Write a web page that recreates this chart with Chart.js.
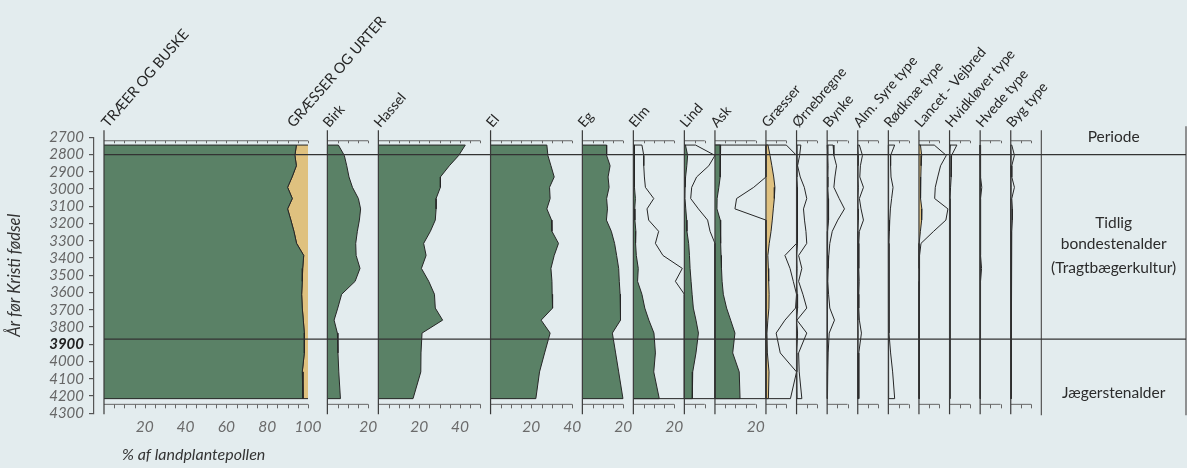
<!DOCTYPE html>
<html>
<head>
<meta charset="utf-8">
<script src="https://cdn.jsdelivr.net/npm/chart.js@4/dist/chart.umd.min.js"></script>
<style>
  html, body { margin: 0; padding: 0; background: #e3ecee; }
  #wrap { width: 1187px; height: 468px; }
</style>
</head>
<body>
<div id="wrap"><canvas id="pollen" width="1187" height="468"></canvas></div>
<script>
// prøvernes alder (år før Kristi fødsel)
const years = [2745, 2805, 2865, 2930, 2990, 3055, 3115, 3180, 3245, 3315, 3385, 3460, 3535, 3610, 3690, 3760, 3835, 3950, 4060, 4215];

// hovedgrupper, % af landplantepollen
const traeer        = [94.3, 93.6, 94.3, 92.2, 90.0, 92.3, 90.0, 91.6, 93.1, 94.4, 97.9, 97.4, 97.2, 96.9, 97.2, 97.7, 98.2, 98.2, 97.2, 97.5];
const graesserUrter = [5.7, 6.4, 5.7, 7.8, 10.0, 7.7, 10.0, 8.4, 6.9, 5.6, 2.1, 2.6, 2.8, 3.1, 2.8, 2.3, 1.8, 1.8, 2.8, 2.5];

// enkelte pollentyper
const birk       = [5.4, 8.3, 9.5, 10.6, 12.3, 15.2, 16.3, 15.7, 14.7, 13.9, 14.1, 16.0, 13.6, 7.0, 5.1, 3.3, 4.9, 5.2, 5.6, 6.4];
const hassel     = [42.6, 39.4, 34.8, 30.4, 30.4, 28.3, 28.3, 27.9, 25.5, 22.2, 23.4, 21.1, 24.7, 27.5, 27.9, 31.5, 21.4, 20.9, 20.8, 17.0];
const el         = [27.6, 28.1, 29.6, 31.2, 28.9, 29.2, 27.6, 29.9, 30.1, 33.3, 31.2, 29.6, 30.1, 30.2, 30.4, 24.8, 29.2, 26.5, 24.0, 22.2];
const eg         = [11.9, 11.9, 13.6, 12.6, 13.1, 11.9, 12.3, 11.8, 14.2, 15.8, 16.8, 17.8, 18.1, 18.5, 18.6, 18.8, 14.7, 16.3, 17.8, 19.9];
const elm        = [0.42, 0.51, 0.51, 0.54, 0.59, 1.0, 0.67, 0.75, 1.24, 1.08, 1.45, 2.4, 2.06, 4.2, 5.6, 7.6, 10.1, 10.8, 10.0, 12.7];
const lind       = [0.55, 1.6, 1.2, 0.6, 0.36, 0.31, 0.69, 1.14, 1.26, 2.1, 2.5, 2.8, 3.3, 3.8, 4.4, 5.7, 6.9, 5.7, 4.1, 3.9];
const ask        = [2.8, 2.6, 2.6, 2.5, 1.9, 1.06, 0.98, 2.6, 2.7, 2.9, 3.0, 3.2, 3.5, 4.1, 5.7, 7.7, 9.8, 8.7, 11.9, 12.3];
const graesser   = [1.0, 2.0, 2.9, 3.8, 4.4, 4.1, 3.6, 3.1, 2.5, 1.6, 0.93, 1.18, 1.34, 1.55, 1.45, 0.93, 0.5, 0.7, 1.5, 1.2];
const ornebregne = [0.21, 0.15, 0.05, 0.18, 0.38, 0.5, 0.34, 0.39, 0.46, 0.5, 0.1, 0.26, 0.1, 0.31, 0.5, 0.02, 0.5, 0.1, 0.13, 0.26];
const bynke      = [0.29, 0.33, 0.46, 0.38, 0.33, 0.59, 0.85, 0.52, 0.25, 0.13, 0.08, 0.05, 0.03, 0.07, 0.13, 0.36, 0.1, 0.05, 0.03, 0.03];
const syre       = [0.08, 0.23, 0.13, 0.1, 0.28, 0.08, 0.16, 0.28, 0.08, 0.05, 0.05, 0.05, 0.07, 0.05, 0.05, 0.08, 0.18, 0.05, 0.05, 0.05];
const rodknae    = [0.31, 0.11, 0.11, 0.13, 0.23, 0.16, 0.1, 0.07, 0.05, 0.03, 0.03, 0.03, 0.03, 0.03, 0.03, 0.03, 0.03, 0.11, 0.21, 0.31];
const lancet     = [0.75, 1.34, 1.06, 0.92, 0.8, 0.77, 1.42, 1.32, 0.72, 0.1, 0.03, 0.03, 0.02, 0.02, 0.02, 0.02, 0.02, 0.02, 0.02, 0.02];
const hvidklover = [0.36, 0.1, 0.08, 0.08, 0.05, 0.02, 0.02, 0.02, 0.02, 0.02, 0.02, 0.02, 0.02, 0.02, 0.02, 0.02, 0.02, 0.02, 0.02, 0.02];
const hvede      = [0.02, 0.02, 0.02, 0.02, 0.08, 0.02, 0.02, 0.02, 0.02, 0.02, 0.02, 0.07, 0.02, 0.02, 0.02, 0.02, 0.02, 0.02, 0.02, 0.02];
const byg        = [0.05, 0.18, 0.05, 0.05, 0.18, 0.05, 0.08, 0.08, 0.05, 0.02, 0.02, 0.02, 0.02, 0.02, 0.02, 0.02, 0.02, 0.02, 0.02, 0.02];

const taxonNames  = ['Birk', 'Hassel', 'El', 'Eg', 'Elm', 'Lind', 'Ask', 'Græsser', 'Ørnebregne', 'Bynke',
                     'Alm. Syre type', 'Rødknæ type', 'Lancet - Vejbred', 'Hvidkløver type', 'Hvede type', 'Byg type'];
const taxonValues = [birk, hassel, el, eg, elm, lind, ask, graesser, ornebregne, bynke, syre, rodknae, lancet, hvidklover, hvede, byg];
const scaleMax    = [20, 50, 40, 20, 20, 10, 20, 10, 10, 10, 10, 10, 10, 10, 10, 10];
const axisLabels  = [[20], [20, 40], [20, 40], [20], [20], [], [20], [], [], [], [], [], [], [], [], []];
const mainLabels  = [20, 40, 60, 80, 100];
const groupNames  = ['TRÆER OG BUSKE', 'GRÆSSER OG URTER'];
const zoneBounds  = [2800, 3870];
const periodNames = ['Periode', 'Tidlig', 'bondestenalder', '(Tragtbægerkultur)', 'Jægerstenalder'];

// ---- udseende ----
const FONT = "Lato, 'Open Sans', sans-serif";
const GREEN = '#5a8166', TAN = '#dfc17f', DARK = '#2e2e2e', INK = '#262626';
const GAP = 5, FIRST_GAP = 9.5;
// fyldfarve og 10x-overdrivelse pr. type
const taxonFill = [GREEN, GREEN, GREEN, GREEN, GREEN, GREEN, GREEN, TAN, DARK, DARK, DARK, DARK, TAN, DARK, DARK, DARK];
const taxonExag = [false, false, false, false, true, true, true, true, true, true, true, true, true, true, true, true];

// paneler langs x-aksen (enheder = procent)
const panels = [{ x0: 0, w: 100, labels: mainLabels }];
let cursor = 100 + FIRST_GAP;
taxonNames.forEach((name, i) => {
  panels.push({ x0: cursor, w: scaleMax[i], name, values: taxonValues[i], labels: axisLabels[i], fill: taxonFill[i], exag: taxonExag[i] });
  cursor += scaleMax[i] + GAP;
});
const periodX = cursor;

function profile(x0, vals, factor, clipW) {
  const pts = [{ x: x0, y: years[0] }];
  vals.forEach((v, i) => pts.push({ x: x0 + Math.min(v * factor, clipW), y: years[i] }));
  pts.push({ x: x0, y: years[years.length - 1] });
  return pts;
}
function ds(data, fillColor) {
  return {
    data, borderColor: INK, borderWidth: 1,
    backgroundColor: fillColor || 'transparent', fill: fillColor ? 'shape' : false,
    pointRadius: 0, pointHoverRadius: 0, tension: 0
  };
}

const datasets = [];
datasets.push(ds(profile(0, traeer, 1, 100), GREEN));
datasets.push(ds([{ x: 100, y: years[0] }, ...graesserUrter.map((v, i) => ({ x: 100 - v, y: years[i] })), { x: 100, y: years[years.length - 1] }], TAN));
panels.slice(1).forEach(p => {
  datasets.push(ds(profile(p.x0, p.values, 1, p.w + GAP), p.fill));
  if (p.exag) datasets.push(ds(profile(p.x0, p.values, 10, p.w + GAP), null));
});

const decor = {
  id: 'decor',
  afterDatasetsDraw(chart) {
    const { ctx, scales: { x, y } } = chart;
    const yTop = y.top - 7, yBot = y.bottom + 1;
    const yStripTop = y.getPixelForValue(2720), yStripBot = y.getPixelForValue(4248);
    const rightEdge = chart.width - 1;
    ctx.save();
    ctx.lineCap = 'butt';

    // skalaer over og under hvert panel
    ctx.strokeStyle = '#666';
    ctx.lineWidth = 1;
    panels.forEach(p => {
      const a = x.getPixelForValue(p.x0), b = x.getPixelForValue(p.x0 + p.w);
      ctx.beginPath();
      ctx.moveTo(a, yStripTop); ctx.lineTo(b, yStripTop);
      ctx.moveTo(a, yStripBot); ctx.lineTo(b, yStripBot);
      for (let v = 5; v <= p.w; v += 5) {
        const px = Math.round(x.getPixelForValue(p.x0 + v)) + 0.5;
        ctx.moveTo(px, yStripTop); ctx.lineTo(px, yStripTop + 2.5);
        ctx.moveTo(px, yStripBot); ctx.lineTo(px, yStripBot + 4);
      }
      ctx.stroke();
    });

    // panelakser
    ctx.strokeStyle = '#3a3a3a';
    ctx.lineWidth = 1.2;
    panels.forEach(p => {
      const a = x.getPixelForValue(p.x0);
      ctx.beginPath(); ctx.moveTo(a, yTop); ctx.lineTo(a, yBot); ctx.stroke();
    });
    // periodekolonne
    const pc = x.getPixelForValue(periodX);
    ctx.strokeStyle = '#555';
    ctx.beginPath(); ctx.moveTo(pc, yTop); ctx.lineTo(pc, yBot + 1); ctx.stroke();
    ctx.strokeStyle = '#7a7a7a';
    ctx.lineWidth = 1.6;
    ctx.beginPath(); ctx.moveTo(rightEdge, yTop - 4); ctx.lineTo(rightEdge, yBot + 1); ctx.stroke();

    // zonegrænser
    ctx.strokeStyle = '#333';
    ctx.lineWidth = 1.3;
    zoneBounds.forEach(z => {
      const py = y.getPixelForValue(z);
      ctx.beginPath(); ctx.moveTo(x.getPixelForValue(0), py); ctx.lineTo(rightEdge, py); ctx.stroke();
    });

    // x-tal
    ctx.fillStyle = '#6b6b6b';
    ctx.font = `italic 15.5px ${FONT}`;
    ctx.textAlign = 'center';
    ctx.textBaseline = 'middle';
    panels.forEach(p => p.labels.forEach(v => ctx.fillText(String(v), x.getPixelForValue(p.x0 + v), 427)));

    // skrå overskrifter
    ctx.fillStyle = '#262626';
    ctx.textAlign = 'left';
    ctx.textBaseline = 'alphabetic';
    const angle = -49 * Math.PI / 180;
    const slanted = (text, px, size) => {
      ctx.save();
      ctx.translate(px, y.top - 9);
      ctx.rotate(angle);
      ctx.font = `${size}px ${FONT}`;
      ctx.fillText(text, 0, 0);
      ctx.restore();
    };
    slanted(groupNames[0], x.getPixelForValue(2), 14.5);
    slanted(groupNames[1], x.getPixelForValue(93), 14.5);
    panels.slice(1).forEach(p => slanted(p.name, x.getPixelForValue(p.x0) + 2, 14));

    // periodetekster
    const cx = (pc + rightEdge) / 2;
    ctx.fillStyle = '#2b2b2b';
    ctx.textAlign = 'center';
    ctx.textBaseline = 'middle';
    ctx.font = `15.5px ${FONT}`;
    ctx.fillText(periodNames[0], cx, y.getPixelForValue(2700));
    ctx.fillText(periodNames[1], cx, y.getPixelForValue(3195));
    ctx.fillText(periodNames[2], cx, y.getPixelForValue(3320));
    ctx.fillText(periodNames[3], cx, y.getPixelForValue(3455));
    ctx.fillText(periodNames[4], cx, y.getPixelForValue(4180));

    // enhed
    ctx.fillStyle = '#333';
    ctx.textAlign = 'left';
    ctx.font = `italic 16px ${FONT}`;
    ctx.fillText('% af landplantepollen', 122, 455);
    ctx.restore();
  }
};

new Chart(document.getElementById('pollen'), {
  type: 'line',
  data: { datasets },
  plugins: [decor],
  options: {
    responsive: false,
    animation: false,
    events: [],
    layout: { padding: { top: 137.3, bottom: 54.7, left: 0, right: 0 } },
    plugins: { legend: { display: false }, tooltip: { enabled: false } },
    scales: {
      x: { type: 'linear', display: false, min: -4.9, max: 530.9 },
      y: {
        type: 'linear', reverse: true, min: 2700, max: 4300,
        afterFit(scale) { scale.width = 94; },
        ticks: {
          stepSize: 100, autoSkip: false, padding: 5,
          color: c => c.tick && c.tick.value === 3900 ? '#222' : '#666',
          font: c => ({ family: FONT, size: 15, style: 'italic', lineHeight: 1, weight: c.tick && c.tick.value === 3900 ? 'bold' : 'normal' }),
          callback: v => String(v)
        },
        grid: { drawOnChartArea: false, tickLength: 5, color: '#555', lineWidth: 1.2 },
        border: { color: '#555', width: 1.2 },
        title: { display: true, text: 'År før Kristi fødsel', color: '#333', font: { family: FONT, size: 16.5, style: 'italic' }, padding: { top: 5, bottom: 0 } }
      }
    }
  }
});
</script>
</body>
</html>
